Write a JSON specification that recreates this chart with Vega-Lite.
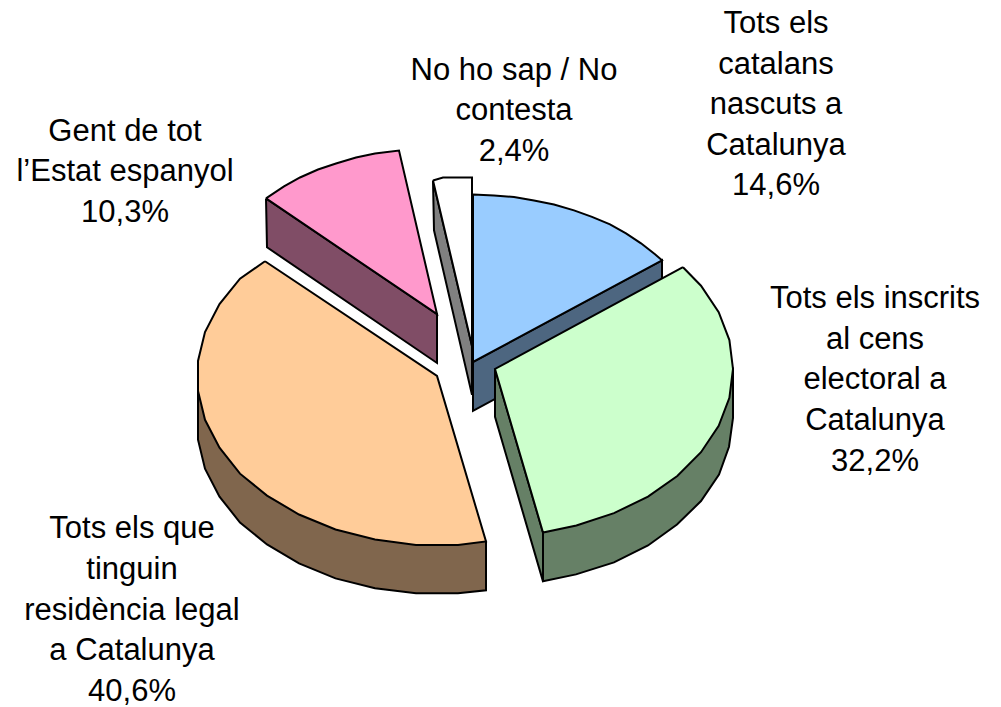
{
"$schema":"https://vega.github.io/schema/vega-lite/v6.json",
"width":1001,"height":707,"padding":0,
"autosize":{"type":"fit","contains":"padding"},
"background":"white",
"config":{"view":{"stroke":null}},
"datasets":{
"outline":[
{"shape":"a1 white side","seq":1,"x":433,"y":181},{"shape":"a1 white side","seq":2,"x":472,"y":347},{"shape":"a1 white side","seq":3,"x":472,"y":396},{"shape":"a1 white side","seq":4,"x":434,"y":231},{"shape":"a1 white side","seq":5,"x":433,"y":181},
{"shape":"a2 white top","seq":1,"x":433,"y":181},{"shape":"a2 white top","seq":2,"x":443,"y":178},{"shape":"a2 white top","seq":3,"x":472,"y":178},{"shape":"a2 white top","seq":4,"x":472,"y":347},{"shape":"a2 white top","seq":5,"x":433,"y":181},
{"shape":"b1 blue side","seq":1,"x":473,"y":363},{"shape":"b1 blue side","seq":2,"x":662,"y":261},{"shape":"b1 blue side","seq":3,"x":662,"y":310},{"shape":"b1 blue side","seq":4,"x":473,"y":412},{"shape":"b1 blue side","seq":5,"x":473,"y":363},
{"shape":"b2 blue top","seq":1,"x":473,"y":195},{"shape":"b2 blue top","seq":2,"x":494,"y":196},{"shape":"b2 blue top","seq":3,"x":514,"y":197.5},{"shape":"b2 blue top","seq":4,"x":534,"y":201},{"shape":"b2 blue top","seq":5,"x":554,"y":205},{"shape":"b2 blue top","seq":6,"x":574,"y":211},{"shape":"b2 blue top","seq":7,"x":592,"y":217.5},{"shape":"b2 blue top","seq":8,"x":610,"y":225},{"shape":"b2 blue top","seq":9,"x":626,"y":234},{"shape":"b2 blue top","seq":10,"x":641,"y":244},{"shape":"b2 blue top","seq":11,"x":655,"y":255},{"shape":"b2 blue top","seq":12,"x":662,"y":261},{"shape":"b2 blue top","seq":13,"x":473,"y":363},{"shape":"b2 blue top","seq":14,"x":473,"y":195},
{"shape":"c1 pink side","seq":1,"x":266,"y":199},{"shape":"c1 pink side","seq":2,"x":437,"y":315},{"shape":"c1 pink side","seq":3,"x":437,"y":364},{"shape":"c1 pink side","seq":4,"x":267,"y":248},{"shape":"c1 pink side","seq":5,"x":266,"y":199},
{"shape":"c2 pink top","seq":1,"x":266,"y":199},{"shape":"c2 pink top","seq":2,"x":284,"y":187},{"shape":"c2 pink top","seq":3,"x":300,"y":178},{"shape":"c2 pink top","seq":4,"x":318,"y":170},{"shape":"c2 pink top","seq":5,"x":336,"y":164},{"shape":"c2 pink top","seq":6,"x":356,"y":158},{"shape":"c2 pink top","seq":7,"x":375,"y":154},{"shape":"c2 pink top","seq":8,"x":399,"y":151},{"shape":"c2 pink top","seq":9,"x":437,"y":315},{"shape":"c2 pink top","seq":10,"x":266,"y":199},
{"shape":"d1 peach side","seq":1,"x":198,"y":392},{"shape":"d1 peach side","seq":2,"x":198,"y":441},{"shape":"d1 peach side","seq":3,"x":205,"y":470},{"shape":"d1 peach side","seq":4,"x":219.5,"y":498},{"shape":"d1 peach side","seq":5,"x":240,"y":524},{"shape":"d1 peach side","seq":6,"x":267,"y":546},{"shape":"d1 peach side","seq":7,"x":299,"y":565},{"shape":"d1 peach side","seq":8,"x":335.5,"y":580},{"shape":"d1 peach side","seq":9,"x":375,"y":590},{"shape":"d1 peach side","seq":10,"x":416,"y":595},{"shape":"d1 peach side","seq":11,"x":458,"y":595},{"shape":"d1 peach side","seq":12,"x":486,"y":592},{"shape":"d1 peach side","seq":13,"x":486,"y":543},{"shape":"d1 peach side","seq":14,"x":420,"y":500},{"shape":"d1 peach side","seq":15,"x":198,"y":392},
{"shape":"d2 peach top","seq":1,"x":265,"y":262},{"shape":"d2 peach top","seq":2,"x":240,"y":279.5},{"shape":"d2 peach top","seq":3,"x":219.5,"y":305},{"shape":"d2 peach top","seq":4,"x":205,"y":333},{"shape":"d2 peach top","seq":5,"x":198,"y":362},{"shape":"d2 peach top","seq":6,"x":198,"y":392},{"shape":"d2 peach top","seq":7,"x":205,"y":421},{"shape":"d2 peach top","seq":8,"x":219.5,"y":449},{"shape":"d2 peach top","seq":9,"x":240,"y":475},{"shape":"d2 peach top","seq":10,"x":267,"y":497},{"shape":"d2 peach top","seq":11,"x":299,"y":516},{"shape":"d2 peach top","seq":12,"x":335.5,"y":531},{"shape":"d2 peach top","seq":13,"x":375,"y":541},{"shape":"d2 peach top","seq":14,"x":416,"y":546.5},{"shape":"d2 peach top","seq":15,"x":458,"y":546.5},{"shape":"d2 peach top","seq":16,"x":486,"y":543},{"shape":"d2 peach top","seq":17,"x":437,"y":377},{"shape":"d2 peach top","seq":18,"x":265,"y":262},
{"shape":"e1 green inner side","seq":1,"x":495,"y":370},{"shape":"e1 green inner side","seq":2,"x":543,"y":534},{"shape":"e1 green inner side","seq":3,"x":543,"y":583},{"shape":"e1 green inner side","seq":4,"x":495,"y":418},{"shape":"e1 green inner side","seq":5,"x":495,"y":370},
{"shape":"e2 green outer side","seq":1,"x":543,"y":534},{"shape":"e2 green outer side","seq":2,"x":543,"y":583},{"shape":"e2 green outer side","seq":3,"x":576,"y":576},{"shape":"e2 green outer side","seq":4,"x":614,"y":564},{"shape":"e2 green outer side","seq":5,"x":648,"y":547},{"shape":"e2 green outer side","seq":6,"x":677,"y":526},{"shape":"e2 green outer side","seq":7,"x":701,"y":502.5},{"shape":"e2 green outer side","seq":8,"x":719,"y":476},{"shape":"e2 green outer side","seq":9,"x":729,"y":448},{"shape":"e2 green outer side","seq":10,"x":733,"y":419},{"shape":"e2 green outer side","seq":11,"x":733,"y":370},{"shape":"e2 green outer side","seq":12,"x":600,"y":450},{"shape":"e2 green outer side","seq":13,"x":543,"y":534},
{"shape":"e3 green top","seq":1,"x":683,"y":268},{"shape":"e3 green top","seq":2,"x":701,"y":286.5},{"shape":"e3 green top","seq":3,"x":718.7,"y":313},{"shape":"e3 green top","seq":4,"x":729.4,"y":341},{"shape":"e3 green top","seq":5,"x":733,"y":370},{"shape":"e3 green top","seq":6,"x":729.4,"y":399},{"shape":"e3 green top","seq":7,"x":718.7,"y":427},{"shape":"e3 green top","seq":8,"x":701,"y":453.5},{"shape":"e3 green top","seq":9,"x":677.3,"y":477.4},{"shape":"e3 green top","seq":10,"x":648,"y":498},{"shape":"e3 green top","seq":11,"x":614,"y":514.6},{"shape":"e3 green top","seq":12,"x":576.4,"y":527},{"shape":"e3 green top","seq":13,"x":543,"y":534},{"shape":"e3 green top","seq":14,"x":495,"y":370},{"shape":"e3 green top","seq":15,"x":683,"y":268}
],
"labels":[
{"x":776,"y":33,"label":"Tots els\ncatalans\nnascuts a\nCatalunya\n14,6%"},
{"x":514,"y":80,"label":"No ho sap / No\ncontesta\n2,4%"},
{"x":125,"y":141,"label":"Gent de tot\nl’Estat espanyol\n10,3%"},
{"x":875,"y":309,"label":"Tots els inscrits\nal cens\nelectoral a\nCatalunya\n32,2%"},
{"x":132,"y":540,"label":"Tots els que\ntinguin\nresidència legal\na Catalunya\n40,6%"}
]
},
"layer":[
{"data":{"name":"outline"},
"mark":{"type":"line","stroke":"black","strokeWidth":2,"strokeJoin":"miter","interpolate":"linear"},
"encoding":{
"x":{"field":"x","type":"quantitative","scale":{"domain":[0,1001],"nice":false,"zero":false},"axis":null},
"y":{"field":"y","type":"quantitative","scale":{"domain":[707,0],"nice":false,"zero":false},"axis":null},
"order":{"field":"seq","type":"quantitative"},
"fill":{"field":"shape","type":"nominal","legend":null,"scale":{
"domain":["a1 white side","a2 white top","b1 blue side","b2 blue top","c1 pink side","c2 pink top","d1 peach side","d2 peach top","e1 green inner side","e2 green outer side","e3 green top"],
"range":["#808080","#FFFFFF","#4D6680","#99CCFF","#804D66","#FF99CC","#80664D","#FFCC99","#668066","#668066","#CCFFCC"]}}
}},
{"data":{"name":"labels"},
"mark":{"type":"text","font":"Liberation Sans","fontSize":31,"lineBreak":"\n","lineHeight":40.6,"align":"center","baseline":"alphabetic","color":"black"},
"encoding":{
"x":{"field":"x","type":"quantitative","scale":{"domain":[0,1001],"nice":false,"zero":false},"axis":null},
"y":{"field":"y","type":"quantitative","scale":{"domain":[707,0],"nice":false,"zero":false},"axis":null},
"text":{"field":"label"}
}}
]
}
